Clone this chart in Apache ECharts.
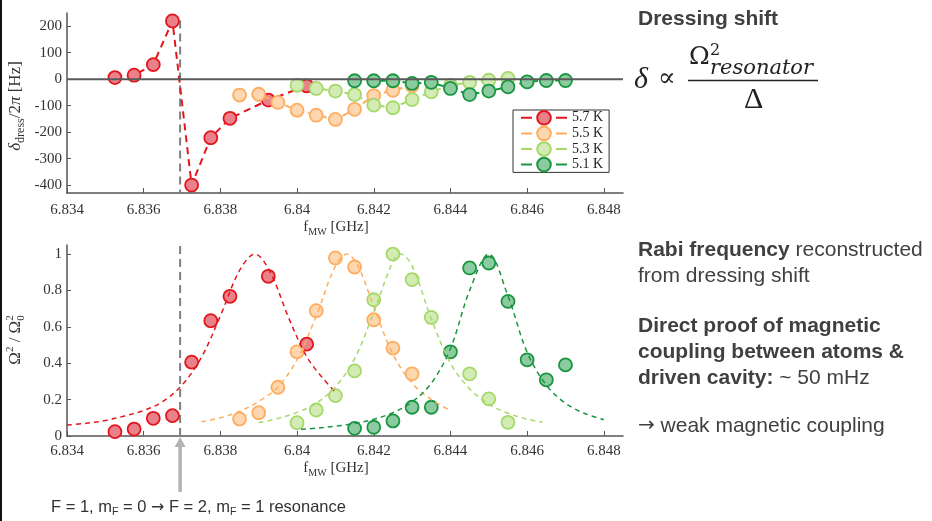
<!DOCTYPE html>
<html>
<head>
<meta charset="utf-8">
<script src="https://cdn.jsdelivr.net/npm/echarts@6/dist/echarts.min.js"></script>
<style>html,body{margin:0;padding:0;background:#fff;}#main{width:932px;height:521px;}</style>
</head>
<body>
<div id="main"></div>
<script>
// ---------------- data ----------------
const xTicks = [6.834, 6.836, 6.838, 6.840, 6.842, 6.844, 6.846, 6.848];
const shiftTicks = [-400, -300, -200, -100, 0, 100, 200];
const rabiTicks = [0, 0.2, 0.4, 0.6, 0.8, 1];
const seriesNames = ['5.7 K', '5.5 K', '5.3 K', '5.1 K'];
const resonanceF = 6.83695;

const fRed = [6.83525, 6.83575, 6.83625, 6.83675, 6.83725, 6.83775, 6.83825, 6.83925, 6.84025];
const shiftRed = [6, 15, 55, 220, -400, -221, -148, -79, -25];
const rabiRed = [0.024, 0.038, 0.097, 0.112, 0.406, 0.634, 0.768, 0.878, 0.505];

const fOrange = [6.8385, 6.839, 6.8395, 6.840, 6.8405, 6.841, 6.8415, 6.842, 6.8425, 6.843];
const shiftOrange = [-60, -57, -88, -117, -136, -152, -114, -62, -42, -25];
const rabiOrange = [0.094, 0.128, 0.268, 0.463, 0.689, 0.979, 0.929, 0.639, 0.483, 0.342];

const fLight = [6.840, 6.8405, 6.841, 6.8415, 6.842, 6.8425, 6.843, 6.8435, 6.844, 6.8445, 6.845, 6.8455];
const shiftLight = [-23, -35, -45, -58, -98, -108, -77, -48, -23, -12, -4, 3];
const rabiLight = [0.073, 0.143, 0.222, 0.358, 0.749, 1.0, 0.86, 0.652, null, 0.342, 0.204, 0.075];

const fDark = [6.8415, 6.842, 6.8425, 6.843, 6.8435, 6.844, 6.8445, 6.845, 6.8455, 6.846, 6.8465, 6.847];
const shiftDark = [-6, -6, -6, -16, -12, -35, -58, -45, -29, -10, -5, -5];
const rabiDark = [0.042, 0.048, 0.083, 0.158, 0.158, 0.463, 0.924, 0.951, 0.74, 0.419, 0.309, 0.391];

// fitted curves
const fitRedF = [6.834, 6.8345, 6.835, 6.8355, 6.836, 6.8365, 6.837, 6.8375, 6.838, 6.8385, 6.8389, 6.8393, 6.8398, 6.8403, 6.841];
const fitRedV = [0.06, 0.07, 0.085, 0.11, 0.14, 0.19, 0.28, 0.43, 0.66, 0.91, 1.0, 0.9, 0.64, 0.42, 0.24];
const fitOrangeF = [6.8375, 6.838, 6.8385, 6.839, 6.8395, 6.840, 6.8405, 6.841, 6.8413, 6.8416, 6.842, 6.8425, 6.843, 6.8435, 6.844];
const fitOrangeV = [0.078, 0.10, 0.135, 0.19, 0.27, 0.42, 0.66, 0.935, 1.0, 0.93, 0.71, 0.45, 0.29, 0.2, 0.14];
const fitLightF = [6.839, 6.8395, 6.840, 6.8405, 6.841, 6.8415, 6.842, 6.8425, 6.8427, 6.843, 6.8435, 6.844, 6.8445, 6.845, 6.8455, 6.846, 6.8464];
const fitLightV = [0.074, 0.096, 0.13, 0.18, 0.27, 0.425, 0.68, 0.96, 1.0, 0.935, 0.645, 0.40, 0.26, 0.175, 0.125, 0.093, 0.075];
const fitDarkF = [6.8401, 6.8405, 6.841, 6.8415, 6.842, 6.8425, 6.843, 6.8435, 6.844, 6.8445, 6.845, 6.8455, 6.846, 6.8465, 6.847, 6.8475, 6.848];
const fitDarkV = [0.037, 0.043, 0.054, 0.069, 0.092, 0.128, 0.187, 0.29, 0.48, 0.8, 1.0, 0.77, 0.46, 0.28, 0.18, 0.124, 0.09];

// ---------------- styling ----------------
const lineColors = ['#e3161c', '#fdae61', '#a6d96a', '#1a9641'];
const fillColors = ['#e9808a', '#fed6b0', '#d3ecb5', '#8ccaa0'];
const SERIF = 'Liberation Serif';
const SANS = 'Liberation Sans';
const AX = '#555';

const zip = (xs, ys) => xs.map((x, i) => [x, ys[i]]).filter(p => p[1] !== null && p[1] !== undefined);
const fmtX = v => parseFloat(v.toFixed(3)).toString();

const tops = [[fRed, shiftRed], [fOrange, shiftOrange], [fLight, shiftLight], [fDark, shiftDark]];
const bots = [[fRed, rabiRed], [fOrange, rabiOrange], [fLight, rabiLight], [fDark, rabiDark]];
const fits = [[fitRedF, fitRedV], [fitOrangeF, fitOrangeV], [fitLightF, fitLightV], [fitDarkF, fitDarkV]];

const series = [];
series.push({type: 'line', xAxisIndex: 0, yAxisIndex: 0, data: [[resonanceF, 222], [resonanceF, -430]],
  symbol: 'none', lineStyle: {color: '#7f7f7f', width: 2, type: [8, 5]}, z: 1, silent: true});
series.push({type: 'line', xAxisIndex: 1, yAxisIndex: 1, data: [[resonanceF, 0], [resonanceF, 1.05]],
  symbol: 'none', lineStyle: {color: '#7f7f7f', width: 2, type: [8, 5]}, z: 1, silent: true});
tops.forEach((d, i) => {
  series.push({type: 'line', name: seriesNames[i], xAxisIndex: 0, yAxisIndex: 0, data: zip(d[0], d[1]),
    symbol: 'circle', symbolSize: 13, showSymbol: true,
    itemStyle: {color: fillColors[i], borderColor: lineColors[i], borderWidth: 1.8},
    lineStyle: {color: lineColors[i], width: 2, type: [7, 5]}, z: 3 + i});
});
series.push({type: 'line', xAxisIndex: 0, yAxisIndex: 0, data: [[6.834, 0], [6.8485, 0]],
  symbol: 'none', lineStyle: {color: '#5a5a5a', width: 2}, z: 20, silent: true});
bots.forEach((d, i) => {
  series.push({type: 'scatter', name: seriesNames[i], xAxisIndex: 1, yAxisIndex: 1, data: zip(d[0], d[1]),
    symbol: 'circle', symbolSize: 13,
    itemStyle: {color: fillColors[i], borderColor: lineColors[i], borderWidth: 1.8, opacity: 1}, z: 3 + i});
});
fits.forEach((d, i) => {
  series.push({type: 'line', name: 'fit ' + seriesNames[i], xAxisIndex: 1, yAxisIndex: 1, data: zip(d[0], d[1]),
    symbol: 'none', smooth: 0.35,
    lineStyle: {color: lineColors[i], width: 1.5, type: [5, 4]}, z: 12});
});

function xAxisCfg(gi, margin) {
  return {type: 'value', gridIndex: gi, min: 6.834, max: 6.8485,
    axisLine: {show: true, onZero: false, lineStyle: {color: AX, width: 1.5}},
    axisTick: {show: true, inside: true, length: 5, customValues: xTicks, lineStyle: {color: AX, width: 1}},
    axisLabel: {customValues: xTicks, formatter: fmtX, margin: margin, fontFamily: SERIF, fontSize: 15, color: '#333'},
    splitLine: {show: false}};
}
function yAxisCfg(gi, min, max, ticks, fmt) {
  return {type: 'value', gridIndex: gi, min: min, max: max,
    axisLine: {show: true, onZero: false, lineStyle: {color: AX, width: 1.5}},
    axisTick: {show: true, inside: true, length: 4, customValues: ticks, lineStyle: {color: AX, width: 1}},
    axisLabel: {customValues: ticks, formatter: fmt, margin: 5, fontFamily: SERIF, fontSize: 15, color: '#333'},
    splitLine: {show: false}};
}

const chart = echarts.init(document.getElementById('main'), null, {renderer: 'canvas'});
const option = {
  animation: false,
  backgroundColor: '#fff',
  grid: [
    {left: 67, top: 13, width: 556, height: 180, outerBoundsMode: 'none', containLabel: false},
    {left: 67, top: 245, width: 556, height: 191, outerBoundsMode: 'none', containLabel: false}
  ],
  xAxis: [xAxisCfg(0, 10), xAxisCfg(1, 8)],
  yAxis: [
    yAxisCfg(0, -430, 250, shiftTicks, v => String(Math.round(v))),
    yAxisCfg(1, 0, 1.05, rabiTicks, v => parseFloat(v.toFixed(1)).toString())
  ],
  legend: {
    data: seriesNames, orient: 'vertical', left: 513, top: 110,
    itemWidth: 46, itemHeight: 17, itemGap: 0, padding: [0, 6, 0, 7],
    borderColor: '#333', borderWidth: 1, backgroundColor: '#fff',
    lineStyle: {type: [11, 24], width: 2},
    textStyle: {fontFamily: SERIF, fontSize: 14, color: '#222'},
    selectedMode: false
  },
  series: series
};
chart.setOption(option);

// ---------------- text annotations ----------------
const cv = document.createElement('canvas').getContext('2d');
function fontStr(p) { return `${p.style || 'normal'} ${p.weight || 'normal'} ${p.size}px ${p.family || SERIF}`; }
function tw(t, p) { cv.font = fontStr(p); return cv.measureText(t).width; }
function run(parts, x0, base, color) {
  let x = x0; const els = [];
  parts.forEach(p => {
    const px = p.at !== undefined ? p.at : x;
    els.push({type: 'text', x: px, y: base + (p.dy || 0) - 0.34 * p.size,
      style: {text: p.t, fontSize: p.size, fontFamily: p.family || SERIF, fontWeight: p.weight || 'normal',
        fontStyle: p.style || 'normal', fill: p.color || color, verticalAlign: 'middle', align: 'left'}, z: 100});
    const w = tw(p.t, p);
    if (!p.noAdvance) x = px + w + (p.kern || 0);
  });
  return {els, width: x - x0};
}
function runCentered(parts, cx, base, color) {
  const r0 = run(parts, 0, base, color);
  return run(parts, cx - r0.width / 2, base, color).els;
}

const graphics = [];
graphics.push({type: 'rect', shape: {x: 0, y: 0, width: 2, height: 521}, style: {fill: '#111'}, z: 100});

const xname = [
  {t: 'f', size: 15}, {t: 'MW', size: 10, dy: 4}, {t: ' [GHz]', size: 15}
];
graphics.push(...runCentered(xname, 336, 232, '#333'));
graphics.push(...runCentered(xname, 336, 473, '#333'));

function rotated(parts, cx, cy, color) {
  const r0 = run(parts, 0, 0, color);
  const els = run(parts, -r0.width / 2, 5, color).els;
  return {type: 'group', x: cx, y: cy, rotation: Math.PI / 2, children: els, z: 100};
}
graphics.push(rotated([
  {t: 'δ', size: 17, style: 'italic'}, {t: 'dress', size: 12, dy: 4}, {t: '/2', size: 17},
  {t: 'π', size: 17, style: 'italic'}, {t: ' [Hz]', size: 17}
], 16, 106, '#333'));
graphics.push(rotated([
  {t: 'Ω', size: 17}, {t: '2', size: 11, dy: -7}, {t: ' / ', size: 17},
  {t: 'Ω', size: 17}, {t: '2', size: 11, dy: -7, noAdvance: true}, {t: '0', size: 11, dy: 4}
], 16, 340, '#333'));

// right-hand text
const TXT = '#404040';
const B = {family: SANS, weight: 'bold', size: 21};
const N = {family: SANS, size: 21};
const AR = {family: 'DejaVu Sans', size: 20};
function line(segs, base) {
  graphics.push(...run(segs.map(s => Object.assign({}, s[1], {t: s[0]})), 638, base, TXT).els);
}
line([['Dressing shift', B]], 26);
line([['Rabi frequency', B], [' reconstructed', N]], 257);
line([['from dressing shift', N]], 283);
line([['Direct proof of magnetic', B]], 333);
line([['coupling between atoms &', B]], 359);
line([['driven cavity:', B], [' ~ 50 mHz', N]], 385);
line([['→', AR], [' weak magnetic coupling', N]], 433);

// formula δ ∝ Ω²_resonator / Δ
const MF = 'Liberation Serif, DejaVu Serif';
graphics.push(...run([{t: 'δ', size: 30, style: 'italic', family: MF}], 634, 90, '#222').els);
graphics.push(...run([{t: '∝', size: 26, family: 'DejaVu Serif'}], 658, 88, '#222').els);
graphics.push(...run([{t: 'Ω', size: 25, family: 'DejaVu Serif'}], 689, 66, '#222').els);
graphics.push(...run([{t: '2', size: 16, family: 'DejaVu Serif'}], 710, 56, '#222').els);
graphics.push(...run([{t: 'resonator', size: 21, style: 'italic', family: 'DejaVu Serif'}], 710, 76, '#222').els);
graphics.push({type: 'line', shape: {x1: 688, y1: 80.5, x2: 818, y2: 80.5}, style: {stroke: '#222', lineWidth: 1.5}, z: 100});
graphics.push(...run([{t: 'Δ', size: 30, family: MF}], 744, 110, '#222').els);

// bottom annotation
const SA = {family: SANS, size: 16.5};
const SS = {family: SANS, size: 10.5, dy: 3};
graphics.push(...run([
  Object.assign({t: 'F = 1, m'}, SA), Object.assign({t: 'F'}, SS),
  Object.assign({t: ' = 0 '}, SA), {t: '→', family: 'DejaVu Sans', size: 16},
  Object.assign({t: ' F = 2, m'}, SA), Object.assign({t: 'F'}, SS),
  Object.assign({t: ' = 1 resonance'}, SA)
], 51, 513, '#333').els);

// arrow pointing at the resonance
const ax = chart.convertToPixel({xAxisIndex: 1}, resonanceF);
graphics.push({type: 'line', shape: {x1: ax, y1: 445, x2: ax, y2: 492}, style: {stroke: '#b3b3b3', lineWidth: 3.5}, z: 100});
graphics.push({type: 'polygon', shape: {points: [[ax - 5.5, 447], [ax + 5.5, 447], [ax, 437]]}, style: {fill: '#b3b3b3'}, z: 100});

chart.setOption({graphic: graphics});
</script>
</body>
</html>
